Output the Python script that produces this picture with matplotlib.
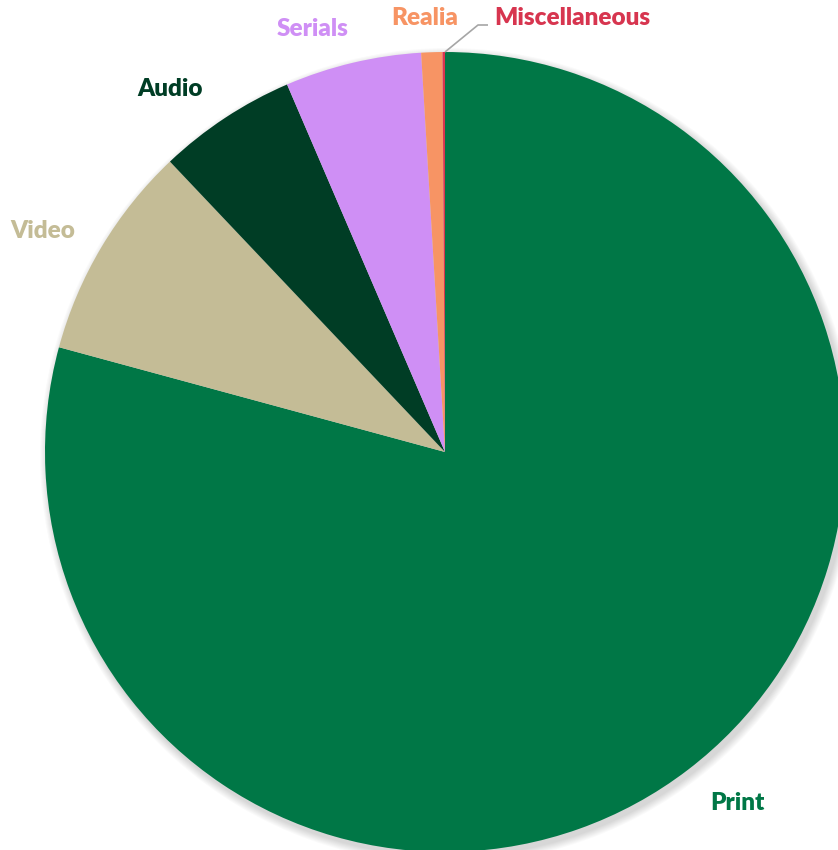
import matplotlib
matplotlib.use("Agg")
import matplotlib.pyplot as plt
from matplotlib.patches import Circle

categories = ["Print", "Video", "Audio", "Serials", "Realia", "Miscellaneous"]
values = [79.1, 8.7, 5.6, 5.5, 0.85, 0.1]
colors = ["#007746", "#C4BC96", "#003D25", "#CF8FF5", "#F79464", "#D7354F"]
label_colors = ["#007746", "#C4BC96", "#003D25", "#CF8FF5", "#F79464", "#D7354F"]

W, H = 838, 850
fig = plt.figure(figsize=(W / 100, H / 100), dpi=100)
ax = fig.add_axes([0, 0, 1, 1])

cx, cy, r = 445, H - 452, 400

# soft shadow
for i in range(8):
    ax.add_patch(Circle((cx + 3, cy - 4), r + 8 - i, color="black",
                        alpha=0.018, lw=0, zorder=0))

wedges, _ = ax.pie(values, colors=colors, startangle=90, counterclock=False,
                   center=(cx, cy), radius=r, frame=True,
                   wedgeprops=dict(linewidth=0))
ax.set_xlim(0, W)
ax.set_ylim(0, H)
ax.set_aspect("equal")
ax.axis("off")

label_pos = [(737, 803), (43, 231), (170, 89), (313, 29), (425, 18), (572, 18)]
font = dict(family="Lato", fontweight="heavy", fontsize=17.5)
for name, (x, y), c in zip(categories, label_pos, label_colors):
    ax.text(x, H - y, name, color=c, ha="center", va="center", **font)

# leader line for Miscellaneous
ax.plot([445, 478, 488], [H - 52, H - 25, H - 25], color="#A6A6A6", lw=1.2,
        solid_capstyle="butt")

fig.savefig("out.png", dpi=100)
